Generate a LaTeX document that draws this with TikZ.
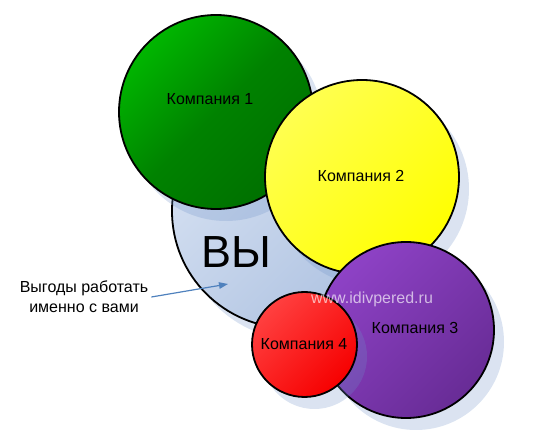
\documentclass[tikz,border=0pt]{standalone}
\usepackage{fontspec}
\setmainfont{Liberation Sans}
\usetikzlibrary{shadows,arrows.meta}
\definecolor{shadowc}{RGB}{110,145,200}
\definecolor{vyT}{RGB}{214,225,242}
\definecolor{vyB}{RGB}{174,194,225}
\definecolor{grT}{RGB}{0,182,0}
\definecolor{grM}{RGB}{0,130,0}
\definecolor{grB}{RGB}{0,112,0}
\definecolor{yeT}{RGB}{255,255,80}
\definecolor{yeB}{RGB}{255,255,0}
\definecolor{puT}{RGB}{142,66,198}
\definecolor{puB}{RGB}{104,44,150}
\definecolor{reT}{RGB}{255,64,64}
\definecolor{reB}{RGB}{246,0,0}
\definecolor{arrowc}{RGB}{79,129,189}
\begin{document}
\begin{tikzpicture}[x=1pt,y=-1pt,
  bubble/.style={circle, draw=black, line width=1.8pt, inner sep=0pt,
    drop shadow={shadow xshift=10pt, shadow yshift=-12pt, fill=shadowc, opacity=0.25}},
  grad/.style 2 args={top color=#1, bottom color=#2, shading angle=45},
  lbl/.style={font=\fontsize{16}{20}\selectfont, text=black, inner sep=0pt}]
\useasboundingbox (0,0) rectangle (549,443);
\node[bubble, minimum size=234pt, grad={vyT}{vyB}] (vy) at (289,211) {};
\node[bubble, minimum size=194pt, grad={grT}{grB}, middle color=grM, shading angle=45] (c1) at (216,112) {};
\node[bubble, minimum size=194pt, grad={yeT}{yeB}] (c2) at (362,177) {};
\node[bubble, minimum size=176pt, grad={puT}{puB}] (c3) at (406,330) {};
\node[bubble, minimum size=105pt, grad={reT}{reB}] (c4) at (304.5,344.5) {};
\node[lbl] (t1) at (210,99) {Компания 1};
\node[lbl] (t2) at (361,176) {Компания 2};
\node[lbl] (t3) at (415,328) {Компания 3};
\node[lbl] (t4) at (304,344) {Компания 4};
\node[font=\fontsize{45}{50}\selectfont, inner sep=0pt] (vyt) at (236,252) {ВЫ};
\node[font=\fontsize{16}{20}\selectfont, text=white, text opacity=0.65, inner sep=0pt, anchor=base] (wm) at (372,304) {www.idivpered.ru};
\node[lbl, align=center, inner sep=3pt] (lab) at (84,297) {Выгоды работать\\именно с вами};
\coordinate (tip) at (228,284);
\draw[arrowc, line width=1.2pt, -{Triangle[length=9pt,width=6.5pt]}] (lab.east) -- (tip);
\end{tikzpicture}
\end{document}
